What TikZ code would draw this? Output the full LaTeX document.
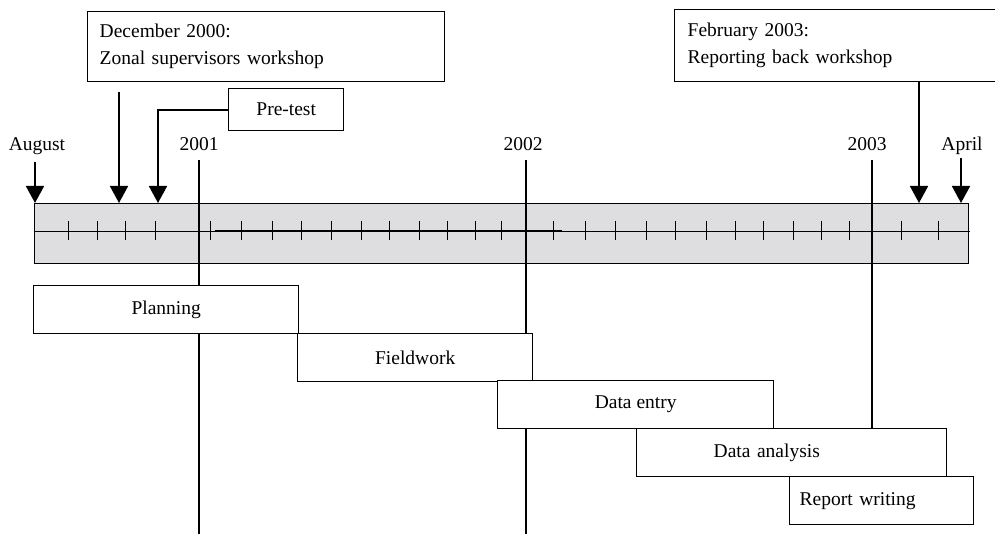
\documentclass[tikz,border=0pt]{standalone}
\usepackage{fontspec}
\setmainfont{Liberation Serif}
\usepackage{tikz}
\usetikzlibrary{arrows.meta, positioning}
\definecolor{bandgray}{RGB}{222,221,223}
\newcommand{\tlfont}{\fontsize{19.5}{27}\selectfont}

\begin{document}
\begin{tikzpicture}[x=1pt, y=-1pt,
      bar/.style={draw, fill=white, line width=1.4pt, minimum height=48pt, inner sep=0pt,
                  font=\tlfont, anchor=north west},
      note/.style={draw, fill=white, line width=1.4pt, inner xsep=12pt, inner ysep=0pt,
                   align=left, font=\tlfont, anchor=north west},
      lbl/.style={font=\tlfont, anchor=base},
      yearline/.style={line width=1.8pt},
      tick/.style={line width=1pt},
      pin/.style={-{Triangle[length=17pt, width=18pt]}, line width=1.8pt}]

    \useasboundingbox (0,0) rectangle (995,534);

    % grey band with the month ticks
    \node[draw, fill=bandgray, line width=1pt, minimum width=934pt, minimum height=60pt,
          inner sep=0pt, anchor=north west] (band) at (34,203) {};
    \draw[line width=0.9pt] (34,231) -- (970,231);
    \draw[line width=1.5pt] (215,231) -- (562,231);
    \foreach \x in {68,97,125,155,210,241,272,301,331,361,389,419,447,475,501,
                    553,585,615,646,675,706,735,763,793,821,849,901,938}
      \draw[tick] (\x,221) -- (\x,240);

    % year and month labels
    \node[lbl] (aug)   at (37,151)  {August};
    \node[lbl] (y2001) at (199,151) {2001};
    \node[lbl] (y2002) at (523,151) {2002};
    \node[lbl] (y2003) at (867,151) {2003};
    \node[lbl] (apr)   at (962,151) {April};

    % year lines
    \coordinate (l2001) at (199,160);
    \coordinate (l2002) at (526,160);
    \coordinate (l2003) at (872,160);
    \draw[yearline] (l2001) -- (199,534);
    \draw[yearline] (l2002) -- (526,534);

    % activity bars
    \node[bar, minimum width=265pt] (plan)  at (33,285)  {Planning};
    \node[bar, minimum width=235pt] (field) at (297,333) {Fieldwork};
    \node[bar, minimum width=276pt] (entry) at (497,380) {Data entry};
    \node[bar, minimum width=310pt, inner xsep=77pt, text width=156pt, align=left]
      (ana) at (636,428) {Data analysis};
    \node[bar, minimum width=184pt, inner xsep=10pt, text width=164pt, align=left]
      (rep) at (789,476) {Report writing};
    \draw[yearline] (l2003) -- (l2003 |- ana.north);

    % events
    \node[note, minimum width=357pt, minimum height=70pt, text width=333pt] (dec) at (87,11)
      {December 2000:\\Zonal supervisors workshop};
    \node[note, minimum width=115pt, minimum height=42pt, inner xsep=0pt, align=center] (pre) at (228,88)
      {Pre-test};
    \node[note, minimum width=326pt, minimum height=72pt, inner xsep=13pt, text width=300pt] (feb) at (674,9)
      {February 2003:\\Reporting back workshop};

    % markers on the band
    \coordinate (t-aug) at (35,203);
    \coordinate (t-dec) at (119,203);
    \coordinate (t-pre) at (158,203);
    \coordinate (t-feb) at (919,203);
    \coordinate (t-apr) at (961,203);
    \draw[pin] (35,162) -- (t-aug);
    \draw[pin] (119,92) -- (t-dec);
    \draw[pin] (pre.west) -| (t-pre);
    \draw[pin] (feb.south -| t-feb) -- (t-feb);
    \draw[pin] (961,158) -- (t-apr);

\end{tikzpicture}
\end{document}
